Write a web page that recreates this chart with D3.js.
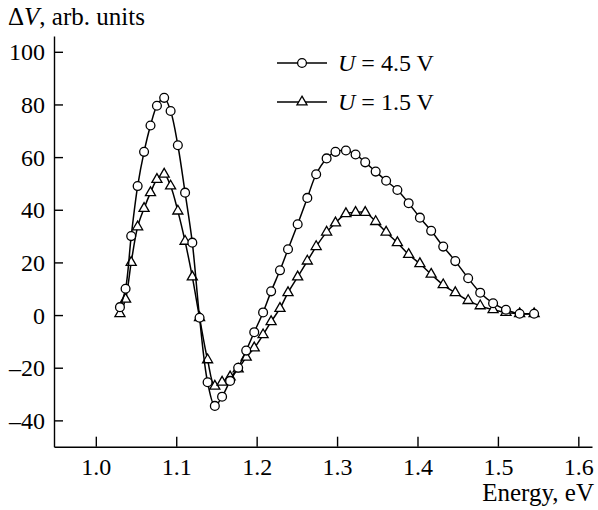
<!DOCTYPE html>
<html><head><meta charset="utf-8">
<script src="https://cdn.jsdelivr.net/npm/d3@7"></script>
<style>body{margin:0;background:#fff}svg{display:block}
svg text{font-family:"Liberation Serif",Tinos,"Times New Roman",Times,"DejaVu Serif",serif !important;fill:#000}</style>
</head><body>
<script>
const energy = [1.030,1.037,1.044,1.052,1.060,1.068,1.076,1.085,1.093,1.102,1.111,1.120,1.129,1.139,1.148,1.157,1.167,1.177,1.187,1.197,1.208,1.218,1.229,1.239,1.251,1.263,1.274,1.287,1.298,1.311,1.323,1.335,1.348,1.361,1.375,1.389,1.403,1.417,1.432,1.447,1.463,1.478,1.494,1.510,1.527,1.545];
const u45 = [3,10,30,49,62,72,79.5,82.5,77.5,64.5,46.5,27.5,-1,-25.5,-34.5,-31,-25,-20,-13.5,-6.5,1,9,17,25,34.5,44.5,53.5,59.5,62,62.5,61,58,54.5,51,47.5,42.5,37,32,26,20.5,14,8.5,4.5,2,0.5,0.5];
const u15 = [0.5,6,20,33.5,40.5,46.5,51.5,53.5,49,39.5,28,14.5,-1,-17,-27,-25.5,-23.5,-20.5,-16,-12.5,-7.5,-2.5,2.5,8.5,14.5,20.5,26,31.5,35,38.5,39,39,35.5,31.5,27.5,23,19.5,15.5,11.5,8.5,5.5,3.5,2,1,0.5,0.5];
const xTicks = [1.0,1.1,1.2,1.3,1.4,1.5,1.6];
const yTicks = [-40,-20,0,20,40,60,80,100];
const seriesNames = ["4.5","1.5"];

const W=598,H=510;
const svg=d3.select("body").append("svg").attr("width",W).attr("height",H);
const x=d3.scaleLinear().domain([0.948,1.617]).range([54,592]);
const y=d3.scaleLinear().domain([-50,106]).range([446.7,36]);
const FS=24;

const xa=svg.append("g").attr("transform","translate(0,446.7)")
  .call(d3.axisBottom(x).tickValues(xTicks).tickFormat(d3.format(".1f")).tickSizeInner(-10).tickSizeOuter(0).tickPadding(12));
const ya=svg.append("g").attr("transform","translate(54,0)")
  .call(d3.axisLeft(y).tickValues(yTicks).tickFormat(d=>String(d).replace("-","\u2013")).tickSizeInner(-9).tickSizeOuter(0).tickPadding(9));
[xa,ya].forEach(g=>{g.attr("font-family",null).attr("font-size",null);
  g.selectAll("path,line").attr("stroke","#000").attr("stroke-width",1.4);
  g.selectAll("text").attr("font-size",FS).style("font-size",FS+"px");});
xa.selectAll("text").attr("dy","0.68em");
ya.selectAll("text").attr("dy","0.34em");

const line=d3.line().x((d,i)=>x(energy[i])).y(d=>y(d)).curve(d3.curveCatmullRom);
const tri=d3.symbol().type(d3.symbolTriangle).size(44);

function drawSeries(vals,kind){
  svg.append("path").attr("d",line(vals)).attr("fill","none").attr("stroke","#000").attr("stroke-width",1.5);
  const g=svg.append("g");
  vals.forEach((v,i)=>{
    if(kind==="c") g.append("circle").attr("cx",x(energy[i])).attr("cy",y(v)).attr("r",4.4)
      .attr("fill","#fff").attr("stroke","#000").attr("stroke-width",1.3);
    else g.append("path").attr("d",tri).attr("transform",`translate(${x(energy[i])},${y(v)})`)
      .attr("fill","#fff").attr("stroke","#000").attr("stroke-width",1.3);
  });
}
drawSeries(u15,"t");
drawSeries(u45,"c");

// legend
[[63,"c",seriesNames[0]],[102,"t",seriesNames[1]]].forEach(([ly,k,name])=>{
  svg.append("line").attr("x1",277).attr("x2",327).attr("y1",ly).attr("y2",ly).attr("stroke","#000").attr("stroke-width",1.5);
  if(k==="c") svg.append("circle").attr("cx",302).attr("cy",ly).attr("r",4.4).attr("fill","#fff").attr("stroke","#000").attr("stroke-width",1.3);
  else svg.append("path").attr("d",tri).attr("transform",`translate(302,${ly})`).attr("fill","#fff").attr("stroke","#000").attr("stroke-width",1.3);
  const t=svg.append("text").attr("x",338).attr("y",ly+7.5).style("font-size","24px");
  t.append("tspan").attr("font-style","italic").text("U");
  t.append("tspan").text(" = "+name+" V");
});

// axis titles
const yt=svg.append("text").attr("x",8).attr("y",25).style("font-size","25px");
yt.append("tspan").text("\u0394");
yt.append("tspan").attr("font-style","italic").text("V");
yt.append("tspan").text(", arb. units");
svg.append("text").attr("x",594).attr("y",501).attr("text-anchor","end").style("font-size","25px").text("Energy, eV");
</script>
</body></html>
